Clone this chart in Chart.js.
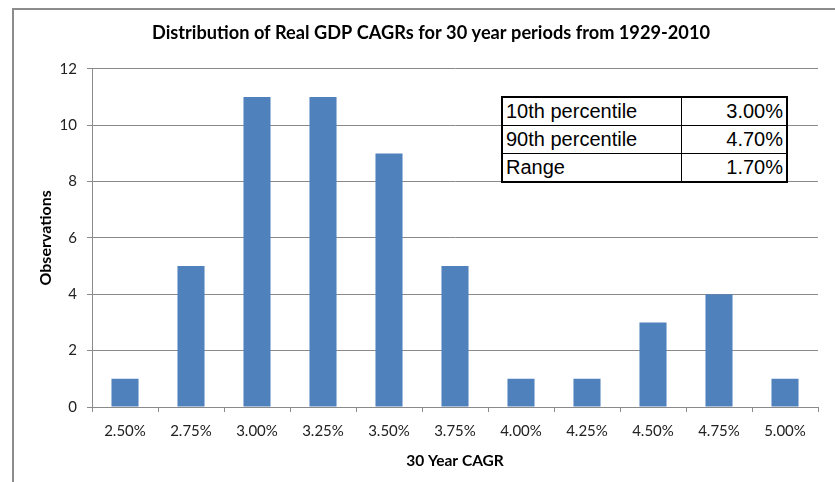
<!DOCTYPE html>
<html>
<head>
<meta charset="utf-8">
<script src="https://cdn.jsdelivr.net/npm/chart.js@4/dist/chart.umd.min.js"></script>
<style>
  html, body { margin: 0; padding: 0; background: #fff; }
  #wrap { position: relative; width: 835px; height: 482px; overflow: hidden; }
  #frame {
    position: absolute; left: 12px; top: 8px; width: 900px; height: 600px;
    border-left: 2px solid #8c8c8c; border-top: 2px solid #8c8c8c;
    box-sizing: border-box; pointer-events: none;
  }
  #gdpChart { position: absolute; left: 0; top: 0; }
  #stats {
    position: absolute; left: 501px; top: 96px; width: 287px;
    border-collapse: collapse; background: #fff;
    border: 2px solid #000;
    font-family: "Liberation Sans", Arial, sans-serif; font-size: 20px; color: #000;
  }
  #stats td { border: 1px solid #000; padding: 0 3px; height: 27px; line-height: 27px; }
  #stats td.val { text-align: right; width: 98px; }
</style>
</head>
<body>
<div id="wrap">
  <canvas id="gdpChart" width="835" height="482"></canvas>
  <div id="frame"></div>
  <table id="stats"></table>
</div>
<script>
// Datos del histograma
const categorias = ['2.50%', '2.75%', '3.00%', '3.25%', '3.50%', '3.75%', '4.00%', '4.25%', '4.50%', '4.75%', '5.00%'];
const observaciones = [1, 5, 11, 11, 9, 5, 1, 1, 3, 4, 1];

// Tabla de percentiles
const etiquetasTabla = ['10th percentile', '90th percentile', 'Range'];
const valoresTabla = ['3.00%', '4.70%', '1.70%'];

const fuente = 'Lato, "Open Sans", sans-serif';
const gris = '#8a8a8a';

// Construir la tabla
const tabla = document.getElementById('stats');
etiquetasTabla.forEach((etiqueta, i) => {
    const fila = tabla.insertRow();
    fila.insertCell().textContent = etiqueta;
    const celda = fila.insertCell();
    celda.className = 'val';
    celda.textContent = valoresTabla[i];
});

const ctx = document.getElementById('gdpChart');
new Chart(ctx, {
    type: 'bar',
    data: {
        labels: categorias,
        datasets: [{
            data: observaciones,
            backgroundColor: '#4f81bd',
            categoryPercentage: 1,
            barPercentage: 0.41
        }]
    },
    options: {
        responsive: false,
        animation: false,
        layout: { padding: { left: 44, right: 17, top: 0, bottom: 0 } },
        plugins: {
            legend: { display: false },
            tooltip: { enabled: false },
            title: {
                display: true,
                text: 'Distribution of Real GDP CAGRs for 30 year periods from 1929-2010',
                color: '#000',
                font: { family: fuente, size: 18.2, weight: 'bold', lineHeight: 1.2 },
                padding: { top: 22, bottom: 25 }
            }
        },
        scales: {
            x: {
                grid: { display: true, drawOnChartArea: false, drawTicks: true, tickLength: 5, color: gris },
                border: { display: true, color: gris, width: 1 },
                ticks: { color: '#222', font: { family: fuente, size: 15 }, padding: 10, maxRotation: 0 },
                title: {
                    display: true,
                    text: '30 Year CAGR',
                    color: '#000',
                    font: { family: fuente, size: 15.5, weight: 'bold', lineHeight: 1.2 },
                    padding: { top: 0, bottom: 12 }
                },
                afterFit: (scale) => { scale.height = 75; }
            },
            y: {
                min: 0,
                max: 12,
                ticks: { stepSize: 2, color: '#222', font: { family: fuente, size: 15 }, padding: 10 },
                grid: { color: gris, tickLength: 5 },
                border: { display: true, color: gris, width: 1 },
                title: {
                    display: true,
                    text: 'Observations',
                    color: '#000',
                    // el título queda a la izquierda del margen del gráfico
                    font: { family: fuente, size: 16, weight: 'bold', lineHeight: 0.2 },
                    padding: { top: 0.4, bottom: 0 }
                },
                afterFit: (scale) => { scale.width = 48; }
            }
        }
    }
});
</script>
</body>
</html>
